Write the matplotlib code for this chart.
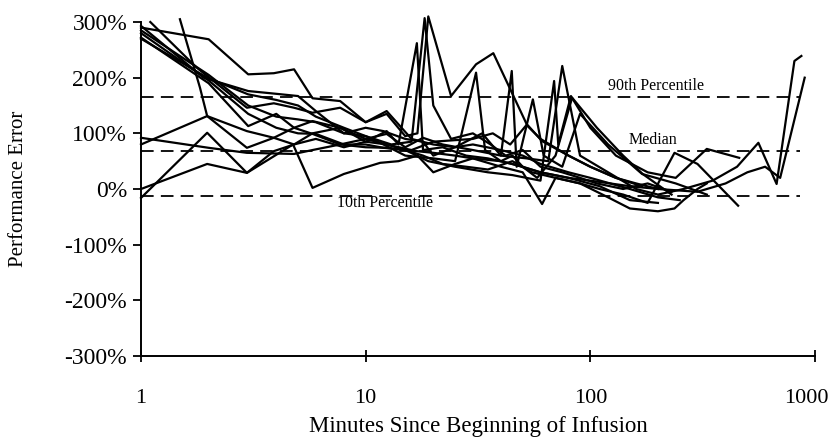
import matplotlib.pyplot as plt
from matplotlib.ticker import FixedLocator, NullLocator
from matplotlib.transforms import ScaledTranslation

plt.rcParams['font.family'] = ['Liberation Serif', 'DejaVu Serif']

# minutes since start of infusion / performance error (%) per patient
pt_a_t = [1, 2, 3, 3.9, 4.8, 5.8, 7.7, 10, 12.4, 15, 17, 19, 24, 31, 37, 52, 61, 80, 100, 130, 170]
pt_a_v = [290, 269, 206, 208, 215, 163, 158, 120, 135, 95, 100, 310, 167, 224, 244, 117, 86, 60, 40, 20, 5]

pt_b_t = [1.49, 1.83, 1.97, 2.96, 3.9, 4.8, 5.8, 7.7, 10, 12.4, 14, 16.9, 18, 22, 28, 35, 45, 60, 80, 110, 150, 200]
pt_b_v = [305, 182, 131, 74, 92, 110, 122, 110, 85, 104, 80, 262, 70, 75, 60, 55, 45, 30, 20, 5, -20, -25]

pt_c_t = [1.1, 1.77, 2.96, 3.9, 4.8, 5.8, 7.7, 10, 12.4, 16, 20, 25, 33, 40, 44.7, 47, 55.5, 62, 75, 90, 120, 170, 240, 330]
pt_c_v = [300, 218, 146, 154, 146, 137, 146, 120, 140, 90, 80, 75, 100, 60, 212, 40, 161, 60, 40, 135, 80, 27, 10, -10]

pt_d_t = [1, 1.9, 3, 4, 5, 6, 8, 10, 12, 15, 18, 20, 25, 30, 40, 50, 60, 80, 100, 150, 200, 250]
pt_d_v = [293, 200, 176, 171, 167, 140, 100, 110, 104, 90, 85, 60, 75, 80, 70, 60, 45, 30, 20, 0, -15, -20]

pt_e_t = [1, 2, 3, 4, 5, 6, 8, 10, 12, 15, 19, 25, 35, 45, 60, 69, 72, 82, 100, 130, 180, 240, 330, 460]
pt_e_v = [280, 195, 135, 110, 100, 99, 80, 80, 74, 70, 50, 40, 30, 25, 15, 194, 80, 167, 110, 60, 30, 20, 72, 56]

pt_f_t = [1, 2, 3, 4, 4.8, 5.8, 7.7, 10, 12.4, 15, 18, 22, 30, 40, 52, 65, 75, 90, 120, 160, 200, 260, 350, 450, 560, 675, 810, 870]
pt_f_v = [272, 190, 113, 135, 110, 99, 80, 90, 99, 75, 92, 80, 70, 60, 55, 50, 221, 60, 30, 0, -10, 0, 15, 40, 83, 9, 230, 239]

pt_g_t = [1, 2, 2.96, 4.8, 5.8, 7.7, 10, 12.4, 15, 20, 25, 30, 40, 50, 60, 80, 100, 150, 200, 300, 400, 500, 600, 700, 900]
pt_g_v = [92, 74, 65, 63, 70, 80, 75, 74, 70, 65, 60, 55, 50, 40, 30, 20, 15, 5, 0, -5, 10, 30, 40, 20, 200]

pt_h_t = [1, 1.97, 2.96, 3.9, 4.8, 6, 8, 10, 12.4, 16, 20, 30, 36.8, 44, 52, 60, 80, 100, 130, 160, 200]
pt_h_v = [80, 131, 104, 92, 80, 90, 75, 85, 80, 70, 85, 90, 100, 80, 115, 90, 60, 40, 20, 10, 0]

pt_i_t = [1, 1.97, 2.96, 4.75, 5.8, 8, 11.6, 14, 17, 20, 25, 30, 40, 50, 61, 70, 90, 120, 150, 200, 237, 260, 300, 330]
pt_i_v = [0, 45, 29, 80, 2, 27, 47, 50, 60, 30, 45, 55, 40, 30, -27, 20, 10, -15, -35, -40, -35, -20, 0, 10]

pt_j_t = [1, 1.97, 2.96, 3.9, 4.8, 5.8, 7.7, 10, 12.4, 15, 18, 22, 28, 35, 45, 55, 70, 90, 110, 140, 180, 237, 300, 455]
pt_j_v = [-16, 101, 29, 68, 80, 100, 110, 90, 80, 70, 60, 45, 40, 35, 50, 30, 20, 10, 0, -10, -25, 65, 45, -30]

pt_k_t = [1, 1.97, 3, 4, 5, 6, 8, 10, 13, 16, 18.3, 20, 24, 30, 36, 42, 50, 60, 75, 90, 107, 140, 180, 230]
pt_k_v = [270, 200, 170, 160, 150, 130, 110, 95, 80, 85, 307, 150, 90, 100, 80, 60, 70, 40, 30, 20, 10, 0, 10, -5]

pt_l_t = [1, 2, 3, 4, 5, 6, 8, 10, 12, 15, 20, 25, 31, 34, 40, 45, 50, 58, 70, 83, 107, 140, 171, 230]
pt_l_v = [285, 205, 150, 130, 125, 120, 100, 95, 80, 60, 55, 50, 209, 70, 50, 60, 40, 20, 60, 164, 110, 60, 27, -10]

# percentile reference lines
pct_names = ['90th Percentile', 'Median', '10th Percentile']
pct_values = [165, 68, -13]
pct_span = [1, 860]

patients = [(pt_a_t, pt_a_v), (pt_b_t, pt_b_v), (pt_c_t, pt_c_v), (pt_d_t, pt_d_v),
            (pt_e_t, pt_e_v), (pt_f_t, pt_f_v), (pt_g_t, pt_g_v), (pt_h_t, pt_h_v),
            (pt_i_t, pt_i_v), (pt_j_t, pt_j_v), (pt_k_t, pt_k_v), (pt_l_t, pt_l_v)]

fig = plt.figure(figsize=(8.31, 4.42), dpi=100)
ax = fig.add_axes([0.1697, 0.1946, 0.811, 0.7556])

for t, v in patients:
    ax.plot(t, v, color='black', linewidth=1.6, clip_on=False)

for val in pct_values:
    ax.plot(pct_span, [val, val], color='black', linewidth=1.3,
            linestyle=(0, (7, 4)), clip_on=False)

ax.text(196, 178, pct_names[0], ha='center', va='baseline', fontsize=11.5)
ax.text(190, 81, pct_names[1], ha='center', va='baseline', fontsize=11.5)
ax.text(12.2, -11, pct_names[2], ha='center', va='top', fontsize=11.5)

ax.set_xscale('log')
ax.set_xlim(1, 1000)
ax.set_ylim(-300, 300)
ax.xaxis.set_major_locator(FixedLocator([1, 10, 100, 1000]))
ax.xaxis.set_minor_locator(NullLocator())
ax.set_xticklabels(['1', '10', '100', '1000'])
ax.set_yticks(range(-300, 301, 100))
ax.set_yticklabels(['%d%%' % y for y in range(-300, 301, 100)])

for side in ['top', 'right']:
    ax.spines[side].set_visible(False)
ax.spines['left'].set_linewidth(1.4)
ax.spines['bottom'].set_linewidth(1.4)

ax.tick_params(axis='x', direction='inout', length=9, width=1.3, pad=19, labelsize=16)
ax.tick_params(axis='y', direction='out', length=6, width=1.3, pad=4, labelsize=17)

# keep "1000" inside the picture, as in the original
last = ax.get_xticklabels()[-1]
last.set_transform(last.get_transform() + ScaledTranslation(-6 / 72, 0, fig.dpi_scale_trans))

ax.set_xlabel('Minutes Since Beginning of Infusion', fontsize=16.5, labelpad=6)
ax.set_ylabel('Performance Error', fontsize=15, labelpad=26)

fig.savefig('out.png', dpi=100)
